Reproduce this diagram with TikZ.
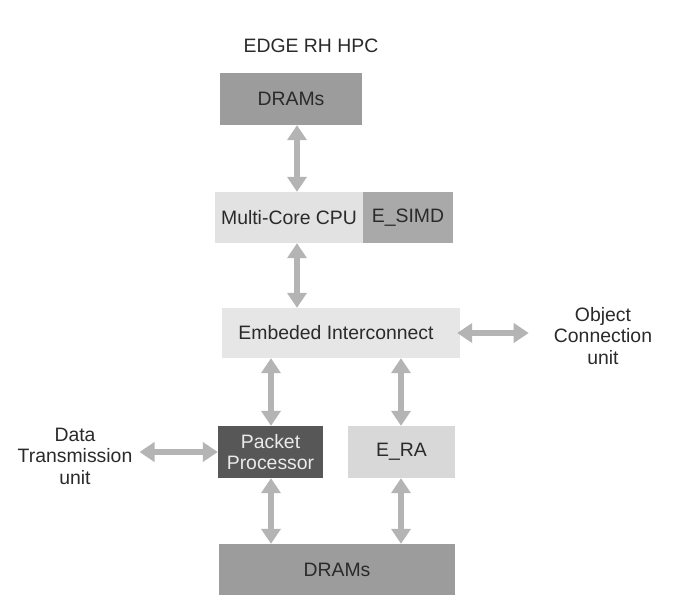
\documentclass[tikz,border=0pt]{standalone}
\usepackage{fontspec}
\setmainfont{Liberation Sans}
\usetikzlibrary{arrows.meta,calc}
\definecolor{dramgray}{HTML}{9C9C9C}
\definecolor{cpugray}{HTML}{E2E2E2}
\definecolor{simdgray}{HTML}{A9A9A9}
\definecolor{icgray}{HTML}{E6E6E6}
\definecolor{ppgray}{HTML}{575757}
\definecolor{eragray}{HTML}{D8D8D8}
\definecolor{arrowgray}{HTML}{B4B4B4}
\definecolor{txt}{HTML}{2A2A2A}
\tikzset{
  lbl/.style={font=\fontsize{19.4}{21.5}\selectfont, text=txt, align=center, inner sep=3pt},
  blk/.style={lbl, draw=none, minimum height=51pt, rectangle},
  biarrow/.style={draw=arrowgray, line width=6.5pt,
     {Triangle[length=15pt,width=19pt]}-{Triangle[length=15pt,width=19pt]}}
}
\begin{document}
\begin{tikzpicture}[x=1pt,y=-1pt]
\useasboundingbox[fill=white] (0,0) rectangle (688,597);
\node[lbl] (title) at (311,46) {EDGE RH HPC};
\node[blk, fill=dramgray, minimum width=142pt, minimum height=52pt] (dram1) at (291,99) {DRAMs};
\node[blk, fill=cpugray, minimum width=148pt] (cpu) at (289,217.5) {Multi-Core CPU};
\node[blk, fill=simdgray, minimum width=90pt] (simd) at (408,217.5) {E\_SIMD};
\node[blk, fill=icgray, minimum width=238pt, minimum height=50pt] (ic) at (341,333) {Embeded Interconnect\hspace*{10pt}};
\node[lbl] (ocu) at (603,336) {Object\\Connection\\unit};
\node[blk, fill=ppgray, text=white!92!black, minimum width=105pt, minimum height=52pt] (pp) at (270.5,452) {Packet\\Processor};
\node[blk, fill=eragray, minimum width=107pt, minimum height=52pt] (era) at (401.5,452) {E\_RA};
\node[lbl] (dtu) at (75,456) {Data\\Transmission\\unit};
\node[blk, fill=dramgray, minimum width=236pt] (dram2) at (337,569.5) {DRAMs};
\coordinate (xa) at (297,0);
\coordinate (xl) at (271,0);
\coordinate (xr) at (401,0);
\draw[biarrow] (dram1.south -| xa) -- (cpu.north -| xa);
\draw[biarrow] (cpu.south -| xa) -- (ic.north -| xa);
\draw[biarrow] ([xshift=-3pt]ic.east) -- ([xshift=-22pt]ocu.west |- ic.east);
\draw[biarrow] (ic.south -| xl) -- (pp.north -| xl);
\draw[biarrow] (ic.south -| xr) -- (era.north -| xr);
\draw[biarrow] ([xshift=4pt]dtu.east |- pp.west) -- (pp.west);
\draw[biarrow] (pp.south -| xl) -- (dram2.north -| xl);
\draw[biarrow] (era.south -| xr) -- (dram2.north -| xr);
\end{tikzpicture}
\end{document}
